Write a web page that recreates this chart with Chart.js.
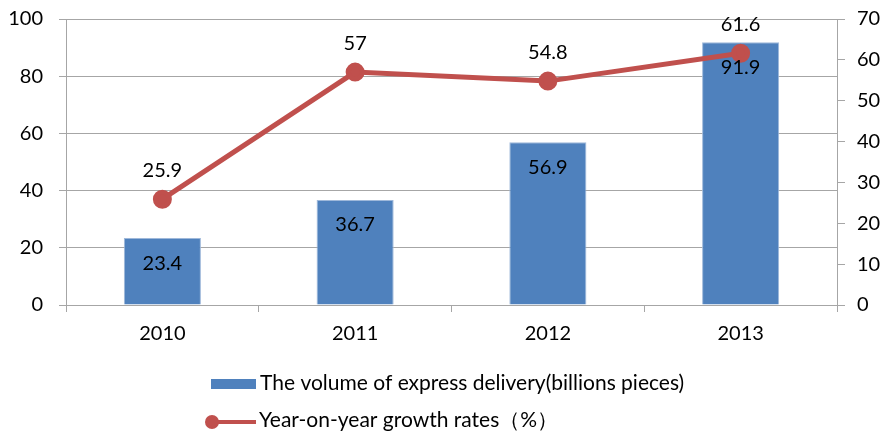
<!DOCTYPE html>
<html>
<head>
<meta charset="utf-8">
<script src="https://cdn.jsdelivr.net/npm/chart.js@4"></script>
<style>
  body { margin: 0; background: #fff; }
  #wrap { width: 883px; height: 434px; position: relative; }
</style>
</head>
<body>
<div id="wrap"><canvas id="chartExpress"></canvas></div>
<script>
const years = ["2010", "2011", "2012", "2013"];
const volume = [23.4, 36.7, 56.9, 91.9];
const growth = [25.9, 57, 54.8, 61.6];
const volumeLabel = "The volume of express delivery(billions pieces)";
const growthLabel = "Year-on-year growth rates\uFF08%\uFF09";

const barColor = "#4F81BD";
const lineColor = "#C0504D";
const gridColor = "#A6A6A6";
const fontFamily = "Lato, 'Liberation Sans', sans-serif";

// value labels: inside bar tops, above the line points
const valueLabels = {
    id: "valueLabels",
    afterDatasetsDraw(chart) {
        const ctx = chart.ctx;
        ctx.save();
        ctx.font = "20px " + fontFamily;
        ctx.fillStyle = "#000";
        ctx.textAlign = "center";
        ctx.textBaseline = "middle";
        chart.getDatasetMeta(1).data.forEach((el, i) => {
            ctx.fillText(String(volume[i]), el.x, el.y + 25);
        });
        chart.getDatasetMeta(0).data.forEach((el, i) => {
            ctx.fillText(String(growth[i]), el.x, el.y - 29);
        });
        ctx.restore();
    }
};

// stacked legend under the axis
const stackedLegend = {
    id: "stackedLegend",
    afterDraw(chart) {
        const ctx = chart.ctx;
        ctx.save();
        ctx.font = "21px " + fontFamily;
        ctx.textBaseline = "middle";

        ctx.fillStyle = barColor;
        ctx.fillRect(211, 379, 45, 10);
        ctx.fillStyle = "#000";
        ctx.fillText(volumeLabel, 260, 383);

        ctx.strokeStyle = lineColor;
        ctx.lineWidth = 4;
        ctx.beginPath();
        ctx.moveTo(206, 422);
        ctx.lineTo(256, 422);
        ctx.stroke();
        ctx.fillStyle = lineColor;
        ctx.beginPath();
        ctx.arc(212, 422, 7, 0, Math.PI * 2);
        ctx.fill();
        ctx.fillStyle = "#000";
        ctx.fillText(growthLabel, 259, 420);
        ctx.restore();
    }
};

const fixVertical = (w) => (s) => {
    s.width = w;
    s.paddingTop = 0;
    s.paddingBottom = 0;
};

const ctx = document.getElementById("chartExpress").getContext("2d");
new Chart(ctx, {
    data: {
        labels: years,
        datasets: [{
            type: "line",
            label: growthLabel,
            data: growth,
            yAxisID: "y1",
            borderColor: lineColor,
            backgroundColor: lineColor,
            borderWidth: 5,
            pointRadius: 7,
            pointHoverRadius: 7,
            tension: 0,
            order: 0
        }, {
            type: "bar",
            label: volumeLabel,
            data: volume,
            yAxisID: "y",
            backgroundColor: barColor,
            borderColor: "#9EB8DA",
            borderWidth: 1,
            barPercentage: 0.8,
            categoryPercentage: 0.5,
            order: 1
        }]
    },
    options: {
        responsive: true,
        maintainAspectRatio: false,
        animation: false,
        layout: { padding: { top: 19, bottom: 89, left: 0, right: 0 } },
        plugins: {
            legend: { display: false },
            tooltip: { enabled: false }
        },
        scales: {
            x: {
                offset: true,
                afterFit: (s) => { s.height = 40; s.paddingLeft = 0; s.paddingRight = 0; },
                grid: { offset: true, drawOnChartArea: false, drawTicks: true, tickLength: 7, color: gridColor },
                border: { color: gridColor },
                ticks: { color: "#000", padding: 10, font: { family: fontFamily, size: 20 } }
            },
            y: {
                position: "left",
                min: 0, max: 100,
                afterFit: fixVertical(66),
                grid: { color: gridColor, tickLength: 7 },
                border: { color: gridColor },
                ticks: { stepSize: 20, color: "#000", padding: 16, font: { family: fontFamily, size: 20 } }
            },
            y1: {
                position: "right",
                min: 0, max: 70,
                afterFit: fixVertical(46),
                grid: { drawOnChartArea: false, color: gridColor, tickLength: 8 },
                border: { color: gridColor },
                ticks: { stepSize: 10, color: "#000", padding: 12, font: { family: fontFamily, size: 20 } }
            }
        }
    },
    plugins: [valueLabels, stackedLegend]
});
</script>
</body>
</html>
